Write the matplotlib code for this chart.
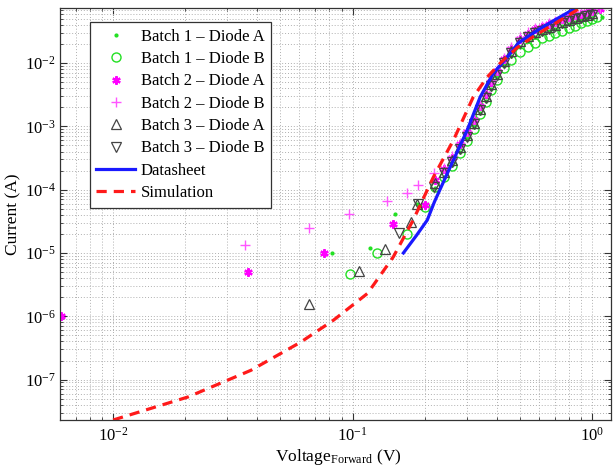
import matplotlib
matplotlib.use("Agg")
import matplotlib.pyplot as plt
from matplotlib.ticker import LogLocator, NullFormatter

plt.rcParams['font.family'] = ['Liberation Serif', 'DejaVu Serif']
plt.rcParams['mathtext.fontset'] = 'stix'

# ---- measured forward characteristics ----
v_b1a = [0.0818, 0.118, 0.15, 0.185, 0.22, 0.24, 0.26, 0.28, 0.30, 0.32, 0.34, 0.36, 0.38, 0.40,
         0.43, 0.46, 0.50, 0.54, 0.58, 0.62, 0.66, 0.70, 0.75, 0.80, 0.85, 0.90, 0.95, 1.00, 1.10]
i_b1a = [1.0e-5, 1.2e-5, 4.1e-5, 6.0e-5, 1.07e-4, 1.6e-4, 2.45e-4, 4.0e-4, 6.2e-4, 9.6e-4, 1.6e-3,
         2.55e-3, 3.9e-3, 5.7e-3, 9.0e-3, 1.3e-2, 1.8e-2, 2.2e-2, 2.6e-2, 2.9e-2, 3.15e-2, 3.45e-2,
         3.8e-2, 4.1e-2, 4.4e-2, 4.7e-2, 4.95e-2, 5.2e-2, 5.4e-2]

v_b1b = [0.0972, 0.127, 0.168, 0.20, 0.22, 0.24, 0.26, 0.28, 0.30, 0.32, 0.34, 0.36, 0.38, 0.40,
         0.43, 0.46, 0.50, 0.54, 0.58, 0.62, 0.66, 0.70, 0.75, 0.80, 0.85, 0.90, 0.95, 1.00, 1.05]
i_b1b = [4.6e-6, 1.0e-5, 2.0e-5, 5.3e-5, 1.1e-4, 1.6e-4, 2.4e-4, 3.8e-4, 5.9e-4, 9.2e-4, 1.55e-3,
         2.45e-3, 3.8e-3, 5.4e-3, 8.2e-3, 1.12e-2, 1.5e-2, 1.8e-2, 2.1e-2, 2.45e-2, 2.7e-2, 2.95e-2,
         3.25e-2, 3.55e-2, 3.9e-2, 4.25e-2, 4.6e-2, 5.0e-2, 5.3e-2]

v_b2a = [0.00607, 0.0365, 0.0757, 0.147, 0.20, 0.22, 0.24, 0.26, 0.28, 0.30, 0.32, 0.34, 0.36, 0.38,
         0.40, 0.43, 0.46, 0.50, 0.54, 0.58, 0.62, 0.66, 0.70, 0.75, 0.80, 0.85, 0.90, 0.95, 1.00, 1.08]
i_b2a = [1.0e-6, 5.0e-6, 1.0e-5, 2.9e-5, 5.7e-5, 1.4e-4, 2.1e-4, 3.2e-4, 5.2e-4, 8.0e-4, 1.25e-3,
         2.1e-3, 3.3e-3, 5.0e-3, 7.4e-3, 1.17e-2, 1.68e-2, 2.4e-2, 2.9e-2, 3.4e-2, 3.75e-2, 4.1e-2,
         4.45e-2, 4.95e-2, 5.3e-2, 5.7e-2, 6.05e-2, 6.4e-2, 6.7e-2, 7.2e-2]

v_b2b = [0.0355, 0.0656, 0.0962, 0.139, 0.168, 0.187, 0.218, 0.24, 0.26, 0.28, 0.30, 0.32, 0.34, 0.36,
         0.38, 0.40, 0.43, 0.46, 0.50, 0.54, 0.58, 0.62, 0.66, 0.70, 0.75, 0.80, 0.85, 0.90, 0.95, 1.00,
         1.08]
i_b2b = [1.33e-5, 2.5e-5, 4.1e-5, 6.6e-5, 8.8e-5, 1.2e-4, 1.8e-4, 2.2e-4, 3.35e-4, 5.4e-4, 8.4e-4,
         1.3e-3, 2.2e-3, 3.45e-3, 5.3e-3, 7.7e-3, 1.22e-2, 1.76e-2, 2.55e-2, 3.05e-2, 3.55e-2, 3.9e-2,
         4.25e-2, 4.65e-2, 5.2e-2, 5.5e-2, 6.0e-2, 6.3e-2, 6.65e-2, 7.0e-2, 7.4e-2]

v_b3a = [0.0656, 0.106, 0.136, 0.176, 0.185, 0.22, 0.24, 0.26, 0.28, 0.30, 0.32, 0.34, 0.36, 0.38,
         0.40, 0.43, 0.46, 0.50, 0.54, 0.58, 0.62, 0.66, 0.70, 0.75, 0.80, 0.85, 0.90, 0.95, 1.00]
i_b3a = [1.56e-6, 5.2e-6, 1.15e-5, 3.1e-5, 5.9e-5, 1.26e-4, 1.9e-4, 2.9e-4, 4.7e-4, 7.3e-4, 1.13e-3,
         1.9e-3, 3.0e-3, 4.6e-3, 6.7e-3, 1.06e-2, 1.53e-2, 2.23e-2, 2.67e-2, 3.1e-2, 3.4e-2, 3.7e-2,
         4.05e-2, 4.5e-2, 4.8e-2, 5.2e-2, 5.5e-2, 5.8e-2, 6.1e-2]

v_b3b = [0.156, 0.187, 0.218, 0.24, 0.26, 0.28, 0.30, 0.32, 0.34, 0.36, 0.38, 0.40, 0.43, 0.46,
         0.50, 0.54, 0.58, 0.62, 0.66, 0.70, 0.75, 0.80, 0.85, 0.90, 0.95, 1.00]
i_b3b = [2.1e-5, 5.9e-5, 1.1e-4, 1.8e-4, 2.75e-4, 4.45e-4, 6.9e-4, 1.07e-3, 1.8e-3, 2.85e-3, 4.4e-3,
         6.4e-3, 1.0e-2, 1.45e-2, 2.1e-2, 2.55e-2, 2.95e-2, 3.25e-2, 3.5e-2, 3.85e-2, 4.3e-2, 4.55e-2,
         4.95e-2, 5.2e-2, 5.5e-2, 5.8e-2]

# ---- reference curves ----
v_sheet = [0.163, 0.185, 0.205, 0.22, 0.256, 0.301, 0.341, 0.387, 0.443, 0.492, 0.60, 0.70, 0.80, 0.90]
i_sheet = [1.0e-5, 1.9e-5, 3.3e-5, 6.5e-5, 2.3e-4, 8.7e-4, 2.9e-3, 6.9e-3, 1.24e-2, 2.07e-2,
           3.4e-2, 4.8e-2, 6.4e-2, 8.3e-2]

v_sim = [0.01, 0.0205, 0.0376, 0.0607, 0.0833, 0.1155, 0.148, 0.179, 0.2175, 0.264, 0.319, 0.365,
         0.414, 0.487, 0.567, 0.70, 0.866, 0.95]
i_sim = [2.3e-8, 5.3e-8, 1.4e-7, 3.9e-7, 8.7e-7, 2.3e-6, 8.7e-6, 3.3e-5, 1.58e-4, 6.1e-4, 2.9e-3,
         6.0e-3, 1.0e-2, 1.75e-2, 2.6e-2, 4.2e-2, 6.9e-2, 8.5e-2]

labels = ['Batch 1 \u2013 Diode A', 'Batch 1 \u2013 Diode B', 'Batch 2 \u2013 Diode A',
          'Batch 2 \u2013 Diode B', 'Batch 3 \u2013 Diode A', 'Batch 3 \u2013 Diode B',
          'Datasheet', 'Simulation']

fig = plt.figure(figsize=(6.13, 4.70), dpi=100)
ax = fig.add_axes([60 / 613, 50 / 470, 551 / 613, 412 / 470])
ax.set_xscale('log')
ax.set_yscale('log')

green = '#22e022'
magenta = '#ff00ff'
pink = '#ff55ff'
dark = '#444444'

ax.plot(v_b1a, i_b1a, ls='none', marker='.', ms=4, color=green, label=labels[0])
ax.plot(v_b1b, i_b1b, ls='none', marker='o', ms=6.5, mfc='none', mec=green, mew=1.0, label=labels[1])
ax.plot(v_b2a, i_b2a, ls='none', marker=(6, 2, 0), ms=6, mec=magenta, mew=1.6, color=magenta,
        label=labels[2])
ax.plot(v_b2b, i_b2b, ls='none', marker='+', ms=7, mec=pink, mew=1.0, label=labels[3])
ax.plot(v_b3a, i_b3a, ls='none', marker='^', ms=6.5, mfc='none', mec=dark, mew=0.9, label=labels[4])
ax.plot(v_b3b, i_b3b, ls='none', marker='v', ms=6.5, mfc='none', mec=dark, mew=0.9, label=labels[5])
ax.plot(v_sheet, i_sheet, color='#1a1aff', lw=2.3, label=labels[6])
ax.plot(v_sim, i_sim, color='#ff1a1a', lw=2.3, ls=(0, (3.2, 2.2)), label=labels[7])

ax.set_xlim(0.006, 1.2)
ax.set_ylim(2.3e-8, 0.074)

ax.xaxis.set_major_locator(LogLocator(base=10, numticks=10))
ax.xaxis.set_minor_locator(LogLocator(base=10, subs=range(2, 10), numticks=20))
ax.yaxis.set_major_locator(LogLocator(base=10, numticks=12))
ax.yaxis.set_minor_locator(LogLocator(base=10, subs=range(2, 10), numticks=20))
ax.xaxis.set_minor_formatter(NullFormatter())
ax.yaxis.set_minor_formatter(NullFormatter())

ax.grid(True, which='both', ls=(0, (1, 2)), color='#b0b0b0', lw=0.7)
ax.set_axisbelow(True)
ax.tick_params(which='both', direction='in', top=True, right=True, color='#333333')
ax.tick_params(which='major', length=5, labelsize=12, pad=5)
ax.tick_params(which='minor', length=2.5)
ax.tick_params(axis='y', pad=3)
for s in ax.spines.values():
    s.set_color('#333333')
    s.set_linewidth(0.9)

ax.set_xlabel(r'Voltage$_{\mathregular{Forward}}$ (V)', fontsize=12.5)
ax.set_ylabel('Current (A)', fontsize=12.5)
ax.xaxis.set_label_coords(0.505, -0.066)
ax.yaxis.set_label_coords(-0.07, 0.5)

leg = ax.legend(loc='upper left', bbox_to_anchor=(0.054, 0.966), borderaxespad=0,
                fontsize=12, frameon=True, fancybox=False, framealpha=1,
                edgecolor='#333333', handlelength=2.3, handletextpad=0.35,
                labelspacing=0.38, borderpad=0.4)
leg.get_frame().set_linewidth(0.9)

fig.savefig('out.png', dpi=100)
